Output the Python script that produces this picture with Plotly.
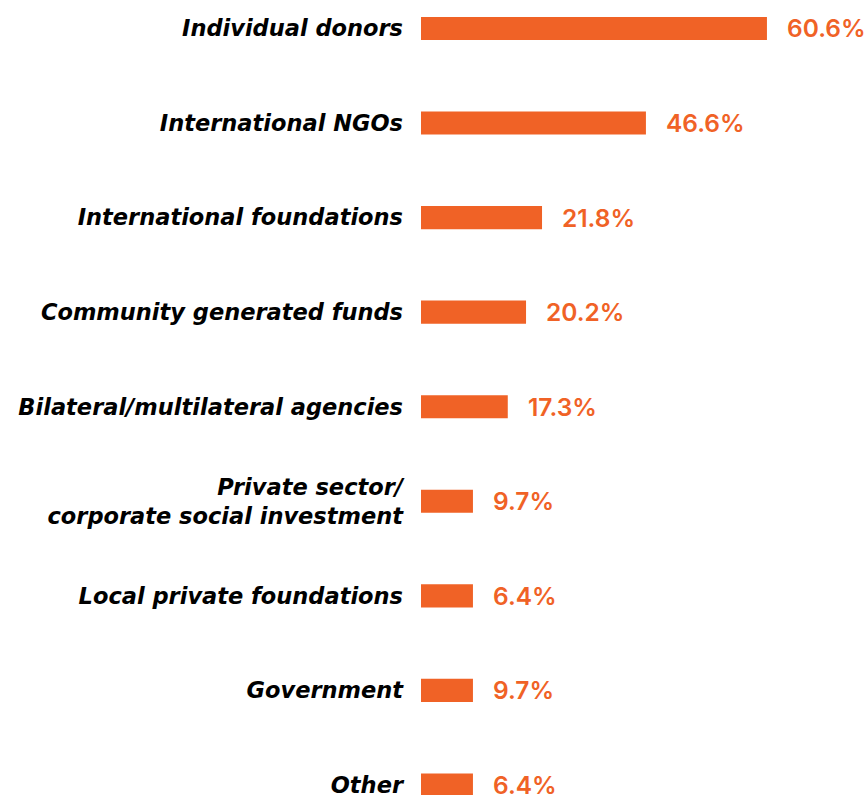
import plotly.graph_objects as go

categories = [
    "Individual donors",
    "International NGOs",
    "International foundations",
    "Community generated funds",
    "Bilateral/multilateral agencies",
    "Private sector/<br>corporate social investment",
    "Local private foundations",
    "Government",
    "Other",
]
# printed value labels (percent)
value_labels = [60.6, 46.6, 21.8, 20.2, 17.3, 9.7, 6.4, 9.7, 6.4]
# bar lengths as drawn in the picture (percent units)
bar_lengths = [60.6, 39.4, 21.2, 18.4, 15.2, 9.1, 9.1, 9.1, 9.1]

ORANGE = "#F06226"

fig = go.Figure()
fig.add_trace(go.Bar(
    x=bar_lengths,
    y=categories,
    orientation="h",
    marker=dict(color=ORANGE, line=dict(width=0)),
    width=0.245,
    hoverinfo="skip",
))

for cat, length, lab in zip(categories, bar_lengths, value_labels):
    fig.add_annotation(
        x=length, y=cat, text=f"{lab:.1f}%",
        showarrow=False, xanchor="left", yanchor="middle",
        xshift=18,
        font=dict(family="Inter, Lato, sans-serif", size=24.5, color=ORANGE, weight=600),
    )

fig.update_layout(
    width=868, height=795,
    margin=dict(l=421, r=0, t=0, b=0),
    paper_bgcolor="white", plot_bgcolor="white",
    showlegend=False,
    xaxis=dict(range=[0, 78.3], visible=False, fixedrange=True, automargin=False),
    yaxis=dict(
        type="category",
        range=[8.106, -0.301],
        automargin=False,
        showgrid=False, zeroline=False, showline=False, ticks="",
        ticklabelstandoff=17,
        tickfont=dict(family="DejaVu Sans, sans-serif", size=22.5, color="black",
                      weight=700, style="italic"),
    ),
)

fig.write_html(
    "out.html",
    config={"displayModeBar": False, "staticPlot": True},
    post_script="document.body.style.margin='0';document.body.style.overflow='hidden';",
)
